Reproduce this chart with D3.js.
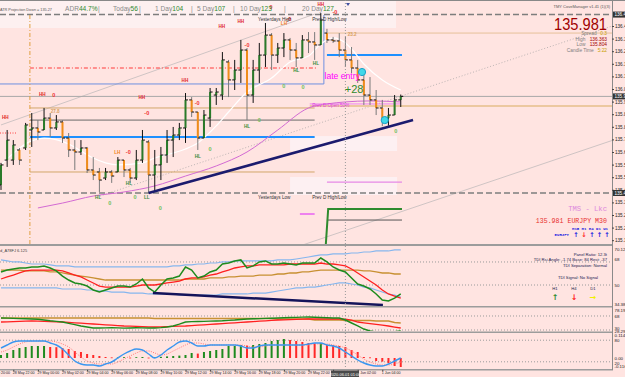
<!DOCTYPE html>
<html>
<head>
<meta charset="utf-8">
<script src="https://cdn.jsdelivr.net/npm/d3@7/dist/d3.min.js"></script>
<style>
  body { margin: 0; background: #FFE4E1; overflow: hidden; }
  svg { display: block; font-family: "Liberation Sans", Arial, sans-serif; }
</style>
</head>
<body>
<svg id="chart" width="625" height="377"></svg>
<script>
// EURJPY M30, 28 May 21:00 .. 1 Jun 05:30 (66 bars)
var barOpen = [135.454,135.602,135.602,135.662,135.674,135.781,135.793,135.781,135.852,135.793,
  135.829,135.733,135.662,135.650,135.674,135.543,135.531,135.495,135.531,135.531,
  135.602,135.543,135.495,135.602,135.710,135.513,135.573,135.632,135.721,135.751,
  135.793,135.960,135.888,135.733,135.852,135.989,135.989,136.186,136.079,136.138,
  136.257,135.989,136.138,136.227,136.346,136.227,136.269,136.317,136.257,136.210,
  136.317,136.305,136.287,136.358,136.317,136.311,136.257,136.198,136.150,136.079,
  135.989,135.960,135.912,135.852,135.870,135.960];
var barHigh = [135.585,135.781,135.721,135.674,135.823,135.882,135.840,135.912,135.882,135.870,
  135.840,135.763,135.721,135.721,135.680,135.620,135.555,135.555,135.543,135.620,
  135.602,135.555,135.662,135.781,135.721,135.662,135.680,135.781,135.799,135.823,
  136.001,135.977,135.888,135.900,136.031,136.031,136.245,136.198,136.198,136.317,
  136.269,136.198,136.299,136.418,136.358,136.299,136.358,136.329,136.299,136.346,
  136.364,136.364,136.477,136.383,136.335,136.358,136.335,136.275,136.198,136.126,
  136.096,136.019,135.960,135.912,135.989,135.992];
var barLow = [135.424,135.561,135.573,135.573,135.662,135.680,135.721,135.781,135.739,135.781,
  135.704,135.620,135.543,135.632,135.525,135.483,135.412,135.483,135.466,135.531,
  135.501,135.466,135.483,135.585,135.406,135.412,135.483,135.585,135.620,135.721,
  135.704,135.858,135.662,135.733,135.799,135.930,135.960,135.977,136.019,136.061,
  135.840,135.942,136.061,136.156,136.138,136.180,136.215,136.198,136.156,136.210,
  136.239,136.198,136.287,136.299,136.299,136.215,136.156,136.120,136.061,135.930,
  135.930,135.870,135.804,135.806,135.870,135.918];
var barClose = [135.573,135.721,135.692,135.602,135.811,135.793,135.769,135.852,135.793,135.829,
  135.733,135.662,135.650,135.674,135.543,135.513,135.483,135.531,135.507,135.602,
  135.543,135.495,135.602,135.721,135.513,135.573,135.632,135.721,135.751,135.793,
  135.960,135.888,135.733,135.870,136.007,136.007,136.198,136.079,136.138,136.257,
  135.989,136.138,136.227,136.346,136.227,136.269,136.317,136.257,136.210,136.317,
  136.305,136.287,136.436,136.317,136.311,136.257,136.198,136.150,136.079,135.989,
  135.960,135.912,135.852,135.870,135.960,135.981];

var timeIdx = [-2,2,6,10,14,18,22,26,30,34,38,42,46,50,54,58,62];
var timeLabels = ["28 May 20:00","28 May 22:00","29 May 00:00","29 May 02:00","29 May 04:00","29 May 06:00",
  "29 May 08:00","29 May 10:00","29 May 12:00","29 May 14:00","29 May 16:00","29 May 18:00",
  "29 May 20:00","29 May 22:00","1 Jun 00:00","1 Jun 02:00","1 Jun 04:00"];
var priceTicks = [136.400,136.325,136.250,136.175,136.100,136.025,135.950,135.875,135.800,135.725,
  135.650,135.575,135.500,135.425,135.350,135.275,135.200,135.125];

// moving averages (bar index, price)
var whiteMA = [[0,135.573],[5,135.716],[7,135.733],[11,135.698],[13,135.656],[15,135.614],[17,135.585],
  [19,135.573],[23,135.585],[25,135.614],[28,135.644],[30,135.668],[32,135.704],[35,135.805],[37,135.888],
  [40,136.007],[44,136.090],[47,136.186],[50,136.221],[52,136.293],[54,136.329],[56,136.299],[57,136.263],
  [59,136.174],[62,136.079],[65,136.019]];
var violetMA = [[6,135.317],[10,135.346],[15,135.388],[20,135.412],[25,135.448],[30,135.507],[35,135.567],
  [40,135.650],[45,135.781],[50,135.912],[53,135.936],[56,135.948],[60,135.954],[65,135.948]];

// levels
var yestHiLo = [136.468, 135.406];
var bidPrice = 135.981;
var blueLevel = [136.055, 136.465];
var blueThick = [135.739, 136.227];
var tanLevels = [135.912, 135.531];
var grayLevel = 135.840;
var redLevel = 136.150;
var tanRight = [135.924, 136.358];
var prevDLevels = [135.936, 135.471, 135.281];
var greenStep = [135.091, 135.311];
var darkLevel = 135.245;
var zoneBoxes = [[135.745, 135.656], [135.501, 135.394]];
var dayIdx = [4.7, 51, 53, 65.2];
var trendMain = [[24, 135.406], [67, 135.840]];
var channelA = [[0, 135.811], [51, 136.471]];
var channelB = [[16.1, 135.388], [99.4, 136.400]];
var channelC = [[48.6, 135.091], [101.5, 135.745]];
var entryCircles = [[58.7, 136.126], [62.4, 135.840]];

// swing labels
var hhLabels = [[0.7,135.858],[6.7,135.995],[22.9,135.977],[29.9,136.079],[35.9,136.400],[39.0,136.430],[52.0,136.531]];
var zeroRed = [[8.6,135.989,"0"],[23.7,135.882,"-0"],[20.7,135.650,"-0"],[31.9,135.942,"-0"],[40.0,136.287,"-0"],
  [43.9,136.513,"0"],[46.8,136.442,"-0"],[54.3,136.483,"-0"]];
var lhLabels = [[18.9,135.650],[46.0,136.418]];
var hlLabels = [[15.8,135.382,"HL"],[20.8,135.466,"HL"],[32.0,135.626,"HL"],[40.0,135.805,"HL"],[48.0,136.138,"HL"],
  [51.2,136.180,"HL"],[23.7,135.382,"LL"]];
var zeroGreen = [[17.7,135.346],[21.8,135.382],[25.9,135.317],[34.0,135.668],[42.0,135.840],[46.0,136.043],[49.1,136.037],[64.2,135.775]];
var fibLabels = [[8.8,135.894,"27.8"],[57.1,136.352,"23.2"]];

// TDI panel
var tdiGreen = [60.2,61.7,62.5,63.3,63.3,64.1,64.1,64.9,63.3,61.0,
  57.0,53.9,51.6,50.8,49.2,46.1,44.5,46.1,47.7,49.2,
  49.2,48.4,50.8,54.7,47.7,44.5,50.0,54.7,55.5,57.0,
  64.1,61.7,55.5,57.0,60.2,61.7,66.4,67.2,68.8,69.6,
  63.3,64.9,68.0,68.8,66.4,66.4,67.2,66.4,65.7,67.2,
  67.2,67.2,71.1,68.0,64.1,61.7,60.2,55.5,50.8,49.2,
  46.9,43.0,38.3,37.5,39.8,43.0];
var tdiRed = [54.7,56.3,57.8,59.4,61.0,61.7,61.7,61.7,61.7,61.7,
  61.0,59.4,57.8,56.3,53.9,51.6,49.2,48.4,48.4,48.4,
  48.4,48.4,49.2,50.0,50.0,50.0,50.8,51.6,52.3,53.1,
  54.7,55.5,55.5,56.3,57.8,58.6,60.2,61.7,63.3,64.1,
  64.9,64.9,65.7,65.7,65.7,65.7,65.7,66.4,66.4,66.4,
  66.4,66.4,67.2,66.4,66.4,65.7,64.9,62.5,59.4,56.3,
  53.1,50.0,46.1,43.0,41.4,39.8];
var tdiBase = [61.7,61.7,61.7,61.7,61.0,61.0,61.0,61.0,60.2,60.2,
  59.4,58.6,57.8,57.0,56.3,55.5,54.7,53.9,53.9,53.9,
  53.9,53.9,53.9,53.9,53.9,53.9,53.9,53.9,53.9,53.9,
  54.7,54.7,54.7,54.7,55.5,55.5,55.5,56.3,56.3,57.0,
  57.0,57.0,57.8,57.8,57.8,58.6,58.6,59.4,59.4,60.2,
  60.2,61.0,61.7,61.7,61.7,61.7,61.7,61.7,61.7,61.0,
  61.0,60.2,59.4,59.4,58.6,58.6];
var tdiUpper = [69.6,68.8,68.0,68.0,67.2,66.4,66.4,66.4,65.7,64.9,
  64.9,64.9,64.1,64.1,64.1,64.1,64.1,64.1,64.1,64.1,
  64.1,64.1,64.1,64.1,64.1,64.1,64.1,64.1,64.9,64.9,
  65.7,65.7,66.4,66.4,67.2,67.2,68.0,68.0,68.8,68.8,
  68.8,68.8,68.8,68.8,68.8,69.6,69.6,69.6,70.3,71.1,
  71.9,72.7,73.5,73.5,74.3,74.3,74.3,75.0,75.0,75.8,
  75.8,76.6,76.6,76.6,77.4,77.4];
var tdiLower = [47.7,47.7,47.7,47.7,47.7,47.7,47.7,47.7,47.7,47.7,
  46.9,46.9,46.9,46.9,46.1,46.1,45.3,45.3,44.5,44.5,
  44.5,43.7,43.7,43.7,43.0,43.0,43.0,43.0,43.0,42.2,
  42.2,42.2,42.2,42.2,42.2,42.2,43.0,43.0,43.0,43.0,
  43.0,43.7,43.7,43.7,44.5,45.3,46.1,46.9,47.7,47.7,
  48.4,48.4,49.2,50.0,50.8,51.6,51.6,50.8,50.0,48.4,
  47.7,46.1,44.5,43.0,42.2,40.6];
var tdiTrend = [[24.7, 43.7], [62.1, 34.4]];

// second panel
var p2Gold = [62.6,62.6,62.6,62.6,62.6,62.6,62.6,62.6,62.6,62.6,
  62.6,62.6,62.6,62.6,62.6,62.6,62.6,62.6,62.6,62.6,
  62.6,62.6,62.6,62.6,62.6,61.2,61.2,61.2,61.2,61.2,
  61.2,61.2,61.2,61.2,61.2,61.2,61.2,61.2,61.2,61.2,
  61.2,61.2,61.2,61.2,61.2,59.9,59.9,59.9,59.9,59.9,
  59.9,57.1,57.1,57.1,57.1,57.1,55.8,55.8,55.8,55.8,
  55.8,54.4,54.4,54.4,50.4,49.0];
var p2Red = [51.7,52.2,52.8,53.3,53.9,54.4,53.9,53.3,52.8,52.2,
  51.7,50.6,49.5,48.4,47.4,46.3,45.2,44.1,43.0,41.9,
  40.9,40.3,39.8,39.2,38.7,38.1,38.7,39.2,39.8,40.3,
  40.9,41.9,43.0,44.1,45.2,46.3,47.4,48.4,49.5,50.6,
  51.7,52.8,53.9,55.0,56.1,57.1,57.7,58.2,58.8,59.3,
  59.9,59.9,59.9,59.9,59.9,59.9,59.3,57.1,51.7,49.5,
  47.4,45.2,43.0,40.9,38.1,35.4];
var p2Green = [62.6,62.1,61.5,61.0,60.4,59.9,59.0,57.0,55.0,53.5,
  51.7,48.0,44.5,40.9,38.0,35.4,35.4,35.8,36.5,35.8,
  35.0,35.4,36.0,35.8,35.4,35.4,36.5,38.1,40.9,46.0,
  51.7,52.8,53.0,53.5,54.0,54.4,55.0,56.0,57.0,58.5,
  59.9,60.4,61.0,61.5,62.0,62.6,63.2,63.8,64.4,65.0,
  65.3,64.5,63.8,63.2,62.6,62.6,57.1,49.0,40.9,32.7,
  27.3,24.6,24.6,24.6,25.5,27.3];

// histogram panel
var hist = [0.015,0.025,0.04,0.05,0.055,0.06,0.06,0.06,0.055,0.054,
  0.05,0.045,0.035,0.03,0.02,0.015,0.01,0.005,0.003,0.003,
  0.004,0.002,0.004,0.005,0.002,0.004,0.006,0.008,0.01,0.012,
  0.015,0.025,0.022,0.03,0.035,0.04,0.045,0.06,0.06,0.065,
  0.062,0.065,0.07,0.075,0.085,0.09,0.095,0.09,0.085,0.08,
  0.075,0.073,0.075,0.065,0.064,0.06,0.055,0.04,0.03,0.005,
  0.003,-0.015,-0.018,-0.025,-0.04,-0.045];
var macdMain = [0.05,0.065,0.08,0.085,0.085,0.085,0.085,0.085,0.075,0.065,
  0.045,0.015,-0.015,-0.03,-0.035,-0.035,-0.04,-0.03,-0.02,0,
  0.02,0.035,0.045,0.04,0.02,0,0.015,0.04,0.06,0.08,
  0.085,0.075,0.06,0.06,0.065,0.065,0.065,0.065,0.065,0.06,
  0.05,0.05,0.06,0.065,0.065,0.065,0.065,0.065,0.065,0.065,
  0.07,0.075,0.075,0.065,0.06,0.05,0.03,0.01,-0.01,-0.025,
  -0.035,-0.04,-0.04,-0.03,-0.015,0];
var macdSignal = [0.03,0.04,0.055,0.07,0.08,0.085,0.085,0.085,0.085,0.08,
  0.07,0.055,0.03,0.005,-0.015,-0.025,-0.03,-0.03,-0.03,-0.02,
  -0.005,0.01,0.025,0.035,0.035,0.025,0.015,0.02,0.035,0.05,
  0.065,0.075,0.075,0.07,0.065,0.065,0.065,0.065,0.065,0.065,
  0.06,0.055,0.055,0.06,0.065,0.065,0.065,0.065,0.065,0.065,
  0.065,0.07,0.07,0.07,0.065,0.06,0.05,0.035,0.015,-0.005,
  -0.02,-0.03,-0.035,-0.035,-0.03,-0.02];

var W = 612;
var x = d3.scaleLinear().domain([0, 65]).range([1, 400.75]);
var y = d3.scaleLinear().domain([135.0, 136.4]).range([261.2, 26]);
var yT = d3.scaleLinear().domain([33.6, 79.7]).range([306, 247]);
var y2 = d3.scaleLinear().domain([27.3, 89.7]).range([331, 308]);
var y3 = d3.scaleLinear().domain([-0.055, 0.125]).range([369, 333]);
var yS = d3.scaleLinear().domain([0, 100]).range([369, 333]);

var svg = d3.select("#chart");
svg.append("rect").attr("width", 625).attr("height", 377).attr("fill", "#FFE4E1");

var defs = svg.append("defs");
defs.append("clipPath").attr("id", "cMain").append("rect").attr("width", W).attr("height", 244);
defs.append("clipPath").attr("id", "cP1").append("rect").attr("y", 247).attr("width", W).attr("height", 59);
defs.append("clipPath").attr("id", "cP2").append("rect").attr("y", 308).attr("width", W).attr("height", 23);
defs.append("clipPath").attr("id", "cP3").append("rect").attr("y", 333).attr("width", W).attr("height", 36);

var gm = svg.append("g").attr("clip-path", "url(#cMain)");

// header band + pale zones
gm.append("rect").attr("x", 0).attr("y", 0).attr("width", 396).attr("height", 28).attr("fill", "#FDF0F0");
gm.selectAll(".zone").data(zoneBoxes).join("rect")
  .attr("x", x(47)).attr("width", x(64.4) - x(47))
  .attr("y", d => y(d[0])).attr("height", d => y(d[1]) - y(d[0]))
  .attr("fill", "#FDF0F2");

function hline(p, i0, i1, color, w, dash) {
  gm.append("line")
    .attr("x1", i0 == null ? 0 : x(i0)).attr("x2", i1 == null ? W : x(i1))
    .attr("y1", y(p)).attr("y2", y(p))
    .attr("stroke", color).attr("stroke-width", w)
    .attr("stroke-dasharray", dash || null);
}
function seg(pts, color, w, dash) {
  gm.append("line")
    .attr("x1", x(pts[0][0])).attr("y1", y(pts[0][1]))
    .attr("x2", x(pts[1][0])).attr("y2", y(pts[1][1]))
    .attr("stroke", color).attr("stroke-width", w)
    .attr("stroke-dasharray", dash || null);
}

// channel lines
seg(channelA, "#cfc4c4", 1);
seg(channelB, "#bdb4b4", 1, "1,2");
seg(channelC, "#cfc4c4", 1);

// levels
hline(bidPrice, null, null, "#a8a8a8", 1);
hline(tanRight[0], 50.2, null, "#ecc8a0", 2);
hline(tanRight[1], dayIdx[2], null, "#e6c09a", 1);
hline(tanLevels[0], dayIdx[0], dayIdx[1], "#d2a66a", 1);
hline(tanLevels[1], dayIdx[0], dayIdx[1], "#d2a66a", 1);
hline(grayLevel, dayIdx[0], dayIdx[1], "#6a6a6a", 1);
hline(redLevel, dayIdx[0], 51.5, "#ff3a3a", 1, "4,2,1,2");
hline(135.763, null, 2.6, "#ff4040", 1, "1,1.5");
hline(blueLevel[0], null, 52.5, "#6f8fe0", 1);
gm.append("line").attr("x1", x(52.5)).attr("x2", x(52.5))
  .attr("y1", y(blueLevel[0])).attr("y2", y(blueLevel[1])).attr("stroke", "#6f8fe0");
hline(blueThick[0], dayIdx[0], dayIdx[1], "#1e90ff", 2);
hline(blueThick[1], dayIdx[2], dayIdx[3], "#1e90ff", 2);
hline(prevDLevels[0], 50.2, 65, "#ee82ee", 1);
hline(prevDLevels[1], dayIdx[2], dayIdx[3], "#e68ae6", 1.2);
hline(prevDLevels[2], 48.6, 51, "#ee82ee", 2);
hline(darkLevel, dayIdx[2], dayIdx[3], "#555", 1);
gm.append("path")
  .attr("d", d3.line()([[x(52.8), y(greenStep[0])], [x(53.2), y(greenStep[1])], [x(dayIdx[3]), y(greenStep[1])]]))
  .attr("fill", "none").attr("stroke", "#2e8b2e").attr("stroke-width", 2);
yestHiLo.forEach(p => hline(p, null, null, "#7d7d7d", 1.5, "6,3"));

// verticals
gm.append("line").attr("x1", x(dayIdx[0])).attr("x2", x(dayIdx[0])).attr("y1", 15).attr("y2", 244)
  .attr("stroke", "#e0a040").attr("stroke-dasharray", "4,2,1,2");

// moving averages
var maLine = d3.line().x(d => x(d[0])).y(d => y(d[1])).curve(d3.curveMonotoneX);
gm.append("path").attr("d", maLine(violetMA)).attr("fill", "none").attr("stroke", "#d36ad3").attr("stroke-width", 1);
gm.append("path").attr("d", maLine(whiteMA)).attr("fill", "none").attr("stroke", "#ffffff").attr("stroke-width", 1.2);

// bars
var bars = d3.range(barOpen.length).map(i => ({i: i, o: barOpen[i], h: barHigh[i], l: barLow[i], c: barClose[i]}));
var gb = gm.append("g");
gb.selectAll(".hl").data(bars).join("line")
  .attr("x1", d => x(d.i)).attr("x2", d => x(d.i))
  .attr("y1", d => y(d.h)).attr("y2", d => y(d.l))
  .attr("stroke", d => d.c >= d.o ? "#111" : "#7a7a7a").attr("stroke-width", 1);
gb.selectAll(".body").data(bars).join("rect")
  .attr("x", d => x(d.i) - 1).attr("width", 2)
  .attr("y", d => y(Math.max(d.o, d.c))).attr("height", d => Math.max(1, Math.abs(y(d.o) - y(d.c))))
  .attr("fill", d => d.c >= d.o ? "#2a7a2a" : "#f08c1a");
gb.selectAll(".op").data(bars).join("line")
  .attr("x1", d => x(d.i) - 2.5).attr("x2", d => x(d.i))
  .attr("y1", d => y(d.o)).attr("y2", d => y(d.o)).attr("stroke", "#111");
gb.selectAll(".cl").data(bars).join("line")
  .attr("x1", d => x(d.i)).attr("x2", d => x(d.i) + 2.5)
  .attr("y1", d => y(d.c)).attr("y2", d => y(d.c)).attr("stroke", "#111");

// trend line
seg(trendMain, "#1b1b6e", 2.6);

// swing labels
function labels(data, color, textFn, size) {
  gm.append("g").selectAll("text").data(data).join("text")
    .attr("x", d => x(d[0])).attr("y", d => y(d[1])).attr("dy", "0.35em")
    .attr("text-anchor", "middle").attr("font-size", size || 5).attr("font-weight", "bold")
    .attr("fill", color).text(textFn);
}
labels(hhLabels, "#e02828", d => "HH", 4.6);
labels(zeroRed, "#f03030", d => d[2], 5.5);
labels(lhLabels, "#f08020", d => "LH", 4.6);
labels(hlLabels, "#3c8c3c", d => d[2], 4.6);
labels(zeroGreen, "#6cbf5c", d => "0", 5.5);
labels(fibLabels, "#d8a060", d => d[2], 4.6);

// entries
gm.selectAll(".ent").data(entryCircles).join("circle")
  .attr("cx", d => x(d[0])).attr("cy", d => y(d[1])).attr("r", 3.6)
  .attr("fill", "#40d8e8").attr("stroke", "#1aa0c8").attr("stroke-width", 1);

gm.append("text").attr("x", x(52.6)).attr("y", y(136.085)).attr("font-size", 8.6).attr("fill", "#ff00ff").text("late entry");
gm.append("text").attr("x", x(55.9)).attr("y", y(136.001)).attr("font-size", 11).attr("fill", "#2e8b2e").text("+28");

// level captions
function cap(t, i, p, color, size) {
  gm.append("text").attr("x", x(i)).attr("y", y(p)).attr("font-size", size || 4.6).attr("fill", color).text(t);
}
cap("Yesterdays High", 41.8, 136.43, "#333");
cap("Prev D High/Low", 50.6, 136.43, "#333");
cap("Yesterdays Low", 41.8, 135.368, "#333");
cap("Prev D High/Low", 50.6, 135.368, "#333");
cap("Prev D Open 50%", 50.6, 135.918, "#e040e0");
cap("Prev D Hi: 50%", 50.6, 135.010, "#2020b0");
hline(135.022, 56, 65, "#6070e0", 0.8, "1,1.5");

// header texts
var hdr = svg.append("g").attr("font-size", 6.6);
hdr.append("text").attr("x", 0).attr("y", 11).attr("font-size", 3.8).attr("fill", "#555").text("ATR Projection Down = 135.27");
var hdrItems = [["ADR", "44.7%", 65], ["Today", "56", 113], ["1 Day", "104", 155], ["5 Day", "107", 197], ["10 Day", "123", 240], ["20 Day", "127", 302]];
hdrItems.forEach(d => {
  var t = hdr.append("text").attr("x", d[2]).attr("y", 11).attr("fill", "#8a8a8a");
  t.append("tspan").text(d[0]);
  t.append("tspan").attr("fill", "#2e8b2e").text(d[1]);
});
[98, 139, 191, 233, 284].forEach(p => hdr.append("text").attr("x", p).attr("y", 11).attr("fill", "#8a8a8a").text("|"));
svg.append("path").attr("d", "M346,3 L350,3 L348,6 Z").attr("fill", "#4050a0");
svg.append("line").attr("x1", 0).attr("x2", 625).attr("y1", 0.5).attr("y2", 0.5).attr("stroke", "#888");

// right info block
var info = svg.append("g").attr("text-anchor", "end");
info.append("text").attr("x", 610).attr("y", 8).attr("font-size", 4).attr("fill", "#555").text("TMY CoveManager v1.41 (1)(3)");
info.append("text").attr("x", 607).attr("y", 29.5).attr("font-size", 16.5).attr("fill", "#a00000")
  .attr("textLength", 53).attr("lengthAdjust", "spacingAndGlyphs").text("135.981");
var infoRows = [["Spread", "0.3", "#c8a000", 35], ["High", "136.363", "#a00000", 40.5], ["Low", "135.804", "#a00000", 46], ["Candle Time", "5:22", "#c8a000", 52]];
infoRows.forEach(r => {
  info.append("text").attr("x", 607).attr("y", r[3]).attr("font-size", 4.8).attr("fill", r[2]).text(r[1]);
  info.append("text").attr("x", 607 - r[1].length * 2.8 - 2).attr("y", r[3]).attr("font-size", 4.8).attr("fill", "#808080").text(r[0]);
});

// TMS block
var tms = svg.append("g").attr("font-family", "'Liberation Mono', 'DejaVu Sans Mono', monospace").attr("text-anchor", "end");
tms.append("text").attr("x", 607).attr("y", 211).attr("font-size", 7.2).attr("fill", "#dd88dd").text("TMS - Lkc");
tms.append("text").attr("x", 607).attr("y", 223).attr("font-size", 6.6).attr("fill", "#e83030").text("135.981 EURJPY M30");
tms.append("text").attr("x", 608).attr("y", 229.5).attr("font-size", 4).attr("font-weight", "bold").attr("fill", "#2020e0").text("M15 H1 H4 D1 W1");
tms.append("text").attr("x", 569).attr("y", 236).attr("font-size", 4).attr("font-weight", "bold").attr("fill", "#2020e0").text("EURJPY");
var tmsArrows = [[576, "↑", "#2020e0"], [584, "↓", "#ff2020"], [592, "↑", "#2020e0"], [599.5, "↑", "#2020e0"], [607, "↑", "#2020e0"]];
tmsArrows.forEach(a => svg.append("text").attr("x", a[0]).attr("y", 237).attr("text-anchor", "middle")
  .attr("font-family", "DejaVu Sans").attr("font-weight", "bold").attr("font-size", 6.5).attr("fill", a[2]).text(a[1]));

// ---- panel 1 (TDI) ----
var g1 = svg.append("g").attr("clip-path", "url(#cP1)");
[68, 50].forEach(v => g1.append("line").attr("x1", 0).attr("x2", W).attr("y1", yT(v)).attr("y2", yT(v))
  .attr("stroke", "#9a9a9a").attr("stroke-dasharray", "1,2"));
var l1 = d3.line().x((d, i) => x(i)).y(d => yT(d));
[[tdiUpper, "#86b6ee", 1.2], [tdiLower, "#86b6ee", 1.2], [tdiBase, "#c89032", 1.3], [tdiRed, "#ff2020", 1.3], [tdiGreen, "#1e8b1e", 1.5]]
  .forEach(s => g1.append("path").attr("d", l1(s[0])).attr("fill", "none").attr("stroke", s[1]).attr("stroke-width", s[2]));
g1.append("line").attr("x1", x(tdiTrend[0][0])).attr("y1", yT(tdiTrend[0][1]))
  .attr("x2", x(tdiTrend[1][0])).attr("y2", yT(tdiTrend[1][1])).attr("stroke", "#14145a").attr("stroke-width", 2.5);
g1.append("text").attr("x", 0).attr("y", 252).attr("font-size", 4).attr("fill", "#444").text("d_A78FJ 6.125");
var tdiTxt = g1.append("g").attr("font-size", 4.2).attr("fill", "#1a1a50").attr("text-anchor", "end");
tdiTxt.append("text").attr("x", 607).attr("y", 255.5).text("Panel Ratio: 12.3t");
tdiTxt.append("text").attr("x", 607).attr("y", 261).text("TDI Rsi Angle: -1.74 Base: 84 Rest: -37");
tdiTxt.append("text").attr("x", 607).attr("y", 266.5).text("TDI Separation: Normal");
tdiTxt.append("text").attr("x", 598).attr("y", 278.5).text("TDI Signal: No Signal");
var tf = [[555, "H1", "↑", "#2e8b2e"], [574, "H4", "↓", "#ff2020"], [593, "D1", "→", "#f0f000"]];
tf.forEach(t => {
  g1.append("text").attr("x", t[0]).attr("y", 290).attr("text-anchor", "middle").attr("font-size", 4.2).attr("fill", "#1a1a50").text(t[1]);
  g1.append("text").attr("x", t[0]).attr("y", 299.5).attr("text-anchor", "middle").attr("font-family", "DejaVu Sans")
    .attr("font-weight", "bold").attr("font-size", 8).attr("fill", t[3]).text(t[2]);
});

// ---- panel 2 ----
var g2 = svg.append("g").attr("clip-path", "url(#cP2)");
[68, 30].forEach(v => g2.append("line").attr("x1", 0).attr("x2", W).attr("y1", y2(v)).attr("y2", y2(v))
  .attr("stroke", "#9a9a9a").attr("stroke-dasharray", "1,2"));
var l2 = d3.line().x((d, i) => x(i)).y(d => y2(d));
[[p2Gold, "#c89032", 1.3], [p2Red, "#ff2020", 1.3], [p2Green, "#1e8b1e", 1.4]]
  .forEach(s => g2.append("path").attr("d", l2(s[0])).attr("fill", "none").attr("stroke", s[1]).attr("stroke-width", s[2]));

// ---- panel 3 ----
var g3 = svg.append("g").attr("clip-path", "url(#cP3)");
[80, 20].forEach(v => g3.append("line").attr("x1", 0).attr("x2", W).attr("y1", yS(v)).attr("y2", yS(v))
  .attr("stroke", "#9a9a9a").attr("stroke-dasharray", "1,2"));
g3.selectAll(".hb").data(hist).join("rect")
  .attr("x", (d, i) => x(i) - 1).attr("width", 2)
  .attr("y", d => Math.min(y3(0), y3(d))).attr("height", d => Math.max(0.8, Math.abs(y3(d) - y3(0))))
  .attr("fill", (d, i) => i === 0 || d >= hist[i - 1] ? "#1e8b1e" : "#ff2828");
var l3 = d3.line().x((d, i) => x(i)).y(d => y3(d)).curve(d3.curveMonotoneX);
g3.append("path").attr("d", l3(macdSignal)).attr("fill", "none").attr("stroke", "#ff7a7a").attr("stroke-width", 1).attr("stroke-dasharray", "1,1.3");
g3.append("path").attr("d", l3(macdMain)).attr("fill", "none").attr("stroke", "#3a96f0").attr("stroke-width", 1.4);

// crosshair / day separator
svg.append("line").attr("x1", x(56)).attr("x2", x(56)).attr("y1", 0).attr("y2", 369)
  .attr("stroke", "#9a9a9a").attr("stroke-dasharray", "1,2");

// panel frames
[245, 306.8, 332.3, 369.8].forEach(p => svg.append("line").attr("x1", 0).attr("x2", W + 1).attr("y1", p).attr("y2", p)
  .attr("stroke", "#9c9c9c").attr("stroke-width", p === 245 ? 2 : 1.4));
svg.append("line").attr("x1", W + 0.5).attr("x2", W + 0.5).attr("y1", 0).attr("y2", 370).attr("stroke", "#8a8a8a");

// price axis
var ax = svg.append("g").attr("transform", "translate(" + W + ",0)")
  .call(d3.axisRight(y).tickValues(priceTicks).tickFormat(d3.format(".3f")).tickSize(2));
ax.attr("font-size", 4.6).attr("font-family", "'Liberation Sans', Arial, sans-serif");
ax.select(".domain").remove();
ax.selectAll("line").attr("stroke", "#444");
ax.selectAll("text").attr("x", 3).attr("fill", "#222");
[[yestHiLo[0], "136.468"], [bidPrice, "135.981"], [yestHiLo[1], "135.406"]].forEach(b => {
  svg.append("rect").attr("x", W + 1).attr("y", y(b[0]) - 3).attr("width", 13).attr("height", 6).attr("fill", "#333");
  svg.append("text").attr("x", W + 2.5).attr("y", y(b[0]) + 1.7).attr("font-size", 4.6).attr("fill", "#fff").text(b[1]);
});

// indicator axes
function sideLabel(t, py) {
  svg.append("text").attr("x", W + 2.5).attr("y", py + 1.6).attr("font-size", 4.4).attr("fill", "#222").text(t);
}
sideLabel("70.1282", 249.5); sideLabel("68", yT(68) - 3); sideLabel("50", yT(50)); sideLabel("34.388", 304);
sideLabel("78.1903", 310.5); sideLabel("68", y2(68)); sideLabel("30", y2(30) - 1.5); sideLabel("28.299", 331.5);
sideLabel("0.1147", 335.5); sideLabel("80", yS(80)); sideLabel("0.00", y3(0)); sideLabel("20", yS(20) + 1.5); sideLabel("-0.1162", 366.5);

// time axis
var tx = svg.append("g").attr("transform", "translate(0,369.8)")
  .call(d3.axisBottom(x).tickValues(timeIdx).tickFormat((d, i) => timeLabels[i]).tickSize(1.5));
tx.attr("font-size", 3.6).attr("font-family", "'Liberation Sans', Arial, sans-serif");
tx.select(".domain").remove();
tx.selectAll("line").attr("stroke", "#444");
tx.selectAll("text").attr("text-anchor", "start").attr("x", -1).attr("y", 2).attr("fill", "#222");
svg.append("rect").attr("x", 331).attr("y", 370.5).attr("width", 28).attr("height", 6.5).attr("fill", "#4a4a4a");
svg.append("text").attr("x", 345).attr("y", 375.5).attr("text-anchor", "middle").attr("font-size", 4).attr("fill", "#fff").text("2020.06.01 01:00");
</script>
</body>
</html>
